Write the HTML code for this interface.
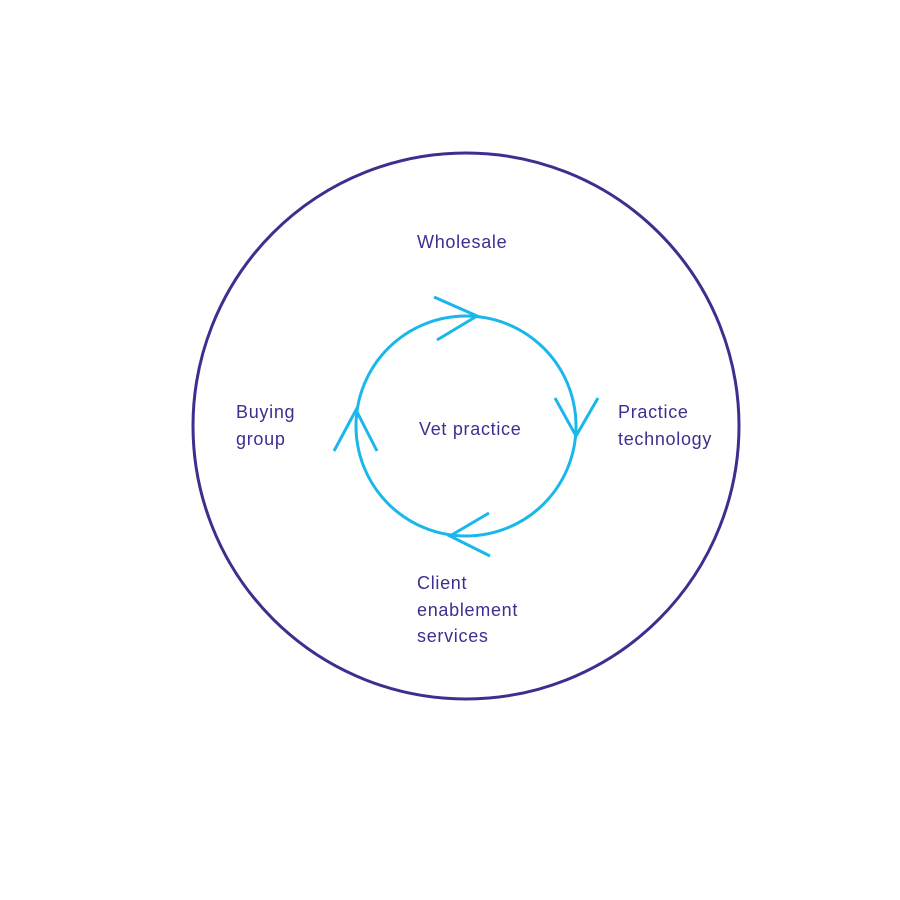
<!DOCTYPE html>
<html><head><meta charset="utf-8"><style>
html,body{margin:0;padding:0;background:#fff;}
svg{display:block;}
text{font-family:"Liberation Sans",sans-serif;font-size:18px;letter-spacing:0.7px;fill:#3d2f8f;}
</style></head><body>
<svg width="900" height="900" viewBox="0 0 900 900">
<circle cx="466" cy="426" r="273" fill="none" stroke="#3d2f8f" stroke-width="3"/>
<circle cx="466" cy="426" r="110" fill="none" stroke="#1ab7ea" stroke-width="3"/>
<g fill="none" stroke="#1ab7ea" stroke-width="3">
<polyline points="434,297 477,316 437,340"/>
<polyline points="555,398 576,436 598,398"/>
<polyline points="489,513 450,536 490,556"/>
<polyline points="334,451 356,410 377,451"/>
</g>
<text x="417" y="248">Wholesale</text>
<text x="419" y="435">Vet practice</text>
<text x="236" y="418">Buying</text>
<text x="236" y="445">group</text>
<text x="618" y="418">Practice</text>
<text x="618" y="445">technology</text>
<text x="417" y="589">Client</text>
<text x="417" y="616">enablement</text>
<text x="417" y="642">services</text>
</svg>
</body></html>
